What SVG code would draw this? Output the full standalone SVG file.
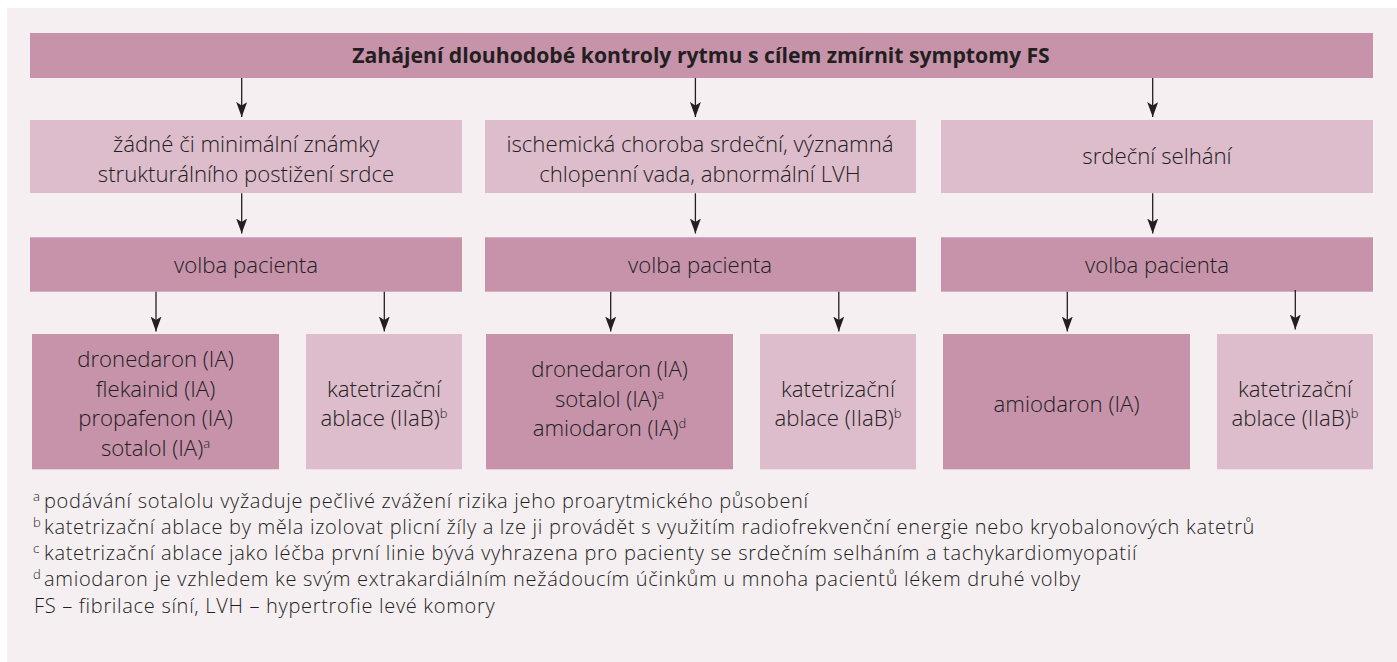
<svg xmlns="http://www.w3.org/2000/svg" width="1397" height="662" viewBox="0 0 1397 662">
<style>
  .dark { fill: #C693AA; }
  .light { fill: #DDBCCB; }
  .t { font-family: "Open Sans", "Liberation Sans", sans-serif; font-size: 22.2px; font-weight: 300; fill: #231E21; text-anchor: middle; }
  .title { font-family: "Open Sans", "Liberation Sans", sans-serif; font-size: 21.2px; font-weight: 700; fill: #231F20; text-anchor: middle; }
  .fn { font-family: "Open Sans", "Liberation Sans", sans-serif; font-size: 20px; letter-spacing: 0.7px; font-weight: 300; fill: #231E21; }
  .sup { font-size: 13px; letter-spacing: 0; }
  .conn line { stroke: #231F20; stroke-width: 1.3; marker-end: url(#ah); }
</style>
<defs>
  <marker id="ah" viewBox="0 0 15 11" refX="15" refY="5.5" markerWidth="15" markerHeight="11" markerUnits="userSpaceOnUse" orient="auto">
    <path d="M0,0 L15,5.5 L0,11 L3.5,5.5 z" fill="#231F20"/>
  </marker>
</defs>
<rect x="7" y="8" width="1390" height="654" fill="#F5EFF2"/>

<g id="n-top">
  <rect class="dark" x="30" y="33" width="1343" height="45"/>
  <text class="title" x="701" y="63">Zahájení dlouhodobé kontroly rytmu s cílem zmírnit symptomy FS</text>
</g>

<g id="n-c1">
  <rect class="light" x="30" y="120" width="432" height="73"/>
  <text class="t" x="246" y="152">žádné či minimální známky</text>
  <text class="t" x="246" y="181.5">strukturálního postižení srdce</text>
</g>
<g id="n-c2">
  <rect class="light" x="485" y="120" width="431" height="73"/>
  <text class="t" x="700" y="152">ischemická choroba srdeční, významná</text>
  <text class="t" x="700" y="181.5">chlopenní vada, abnormální LVH</text>
</g>
<g id="n-c3">
  <rect class="light" x="941" y="120" width="432" height="73"/>
  <text class="t" x="1157" y="164">srdeční selhání</text>
</g>

<g id="n-v1">
  <rect class="dark" x="30" y="237.3" width="432" height="54.4"/>
  <text class="t" x="246" y="272.5">volba pacienta</text>
</g>
<g id="n-v2">
  <rect class="dark" x="485" y="237.3" width="431" height="54.4"/>
  <text class="t" x="700" y="272.5">volba pacienta</text>
</g>
<g id="n-v3">
  <rect class="dark" x="941" y="237.3" width="432" height="54.4"/>
  <text class="t" x="1157" y="272.5">volba pacienta</text>
</g>

<g id="n-a">
  <rect class="dark" x="32" y="334" width="247" height="135.3"/>
  <text class="t" x="155.5" y="367">dronedaron (IA)</text>
  <text class="t" x="155.5" y="396.5">flekainid (IA)</text>
  <text class="t" x="155.5" y="426">propafenon (IA)</text>
  <text class="t" x="155.5" y="455.5">sotalol (IA)<tspan class="sup" dy="-8">a</tspan></text>
</g>
<g id="n-b">
  <rect class="light" x="306" y="334" width="156" height="135.3"/>
  <text class="t" x="384" y="396.5">katetrizační</text>
  <text class="t" x="384" y="426">ablace (IIaB)<tspan class="sup" dy="-8">b</tspan></text>
</g>
<g id="n-c">
  <rect class="dark" x="486" y="334" width="247" height="135.3"/>
  <text class="t" x="609.5" y="377">dronedaron (IA)</text>
  <text class="t" x="609.5" y="406.5">sotalol (IA)<tspan class="sup" dy="-8">a</tspan></text>
  <text class="t" x="609.5" y="436">amiodaron (IA)<tspan class="sup" dy="-8">d</tspan></text>
</g>
<g id="n-d">
  <rect class="light" x="760" y="334" width="156" height="135.3"/>
  <text class="t" x="838" y="396.5">katetrizační</text>
  <text class="t" x="838" y="426">ablace (IIaB)<tspan class="sup" dy="-8">b</tspan></text>
</g>
<g id="n-e">
  <rect class="dark" x="943" y="334" width="247" height="135.3"/>
  <text class="t" x="1066.5" y="411.5">amiodaron (IA)</text>
</g>
<g id="n-f">
  <rect class="light" x="1217" y="334" width="156" height="135.3"/>
  <text class="t" x="1295" y="396.5">katetrizační</text>
  <text class="t" x="1295" y="426">ablace (IIaB)<tspan class="sup" dy="-8">b</tspan></text>
</g>

<g id="connectors" class="conn">
  <line x1="241.7" y1="78" x2="241.7" y2="117"/>
  <line x1="695.4" y1="78" x2="695.4" y2="117"/>
  <line x1="1152.7" y1="78" x2="1152.7" y2="117"/>
  <line x1="241.7" y1="193.3" x2="241.7" y2="233.5"/>
  <line x1="695.4" y1="193.3" x2="695.4" y2="233.5"/>
  <line x1="1152.7" y1="193.3" x2="1152.7" y2="233.5"/>
  <line x1="156" y1="291.7" x2="156" y2="331.5"/>
  <line x1="384.3" y1="291.7" x2="384.3" y2="331.5"/>
  <line x1="610.7" y1="291.7" x2="610.7" y2="331.5"/>
  <line x1="838.8" y1="291.7" x2="838.8" y2="331.5"/>
  <line x1="1067.3" y1="291.7" x2="1067.3" y2="331.5"/>
  <line x1="1295.3" y1="290" x2="1295.3" y2="329.5"/>
</g>

<g id="footnotes" class="fn">
  <text x="33" y="507.7"><tspan class="sup" dy="-7">a</tspan><tspan x="44" dy="7">podávání sotalolu vyžaduje pečlivé zvážení rizika jeho proarytmického působení</tspan></text>
  <text x="33" y="533.7"><tspan class="sup" dy="-7">b</tspan><tspan x="44" dy="7">katetrizační ablace by měla izolovat plicní žíly a lze ji provádět s využitím radiofrekvenční energie nebo kryobalonových katetrů</tspan></text>
  <text x="33" y="560"><tspan class="sup" dy="-7">c</tspan><tspan x="44" dy="7">katetrizační ablace jako léčba první linie bývá vyhrazena pro pacienty se srdečním selháním a tachykardiomyopatií</tspan></text>
  <text x="33" y="586"><tspan class="sup" dy="-7">d</tspan><tspan x="44" dy="7">amiodaron je vzhledem ke svým extrakardiálním nežádoucím účinkům u mnoha pacientů lékem druhé volby</tspan></text>
  <text x="34" y="613.3">FS – fibrilace síní, LVH – hypertrofie levé komory</text>
</g>
</svg>
